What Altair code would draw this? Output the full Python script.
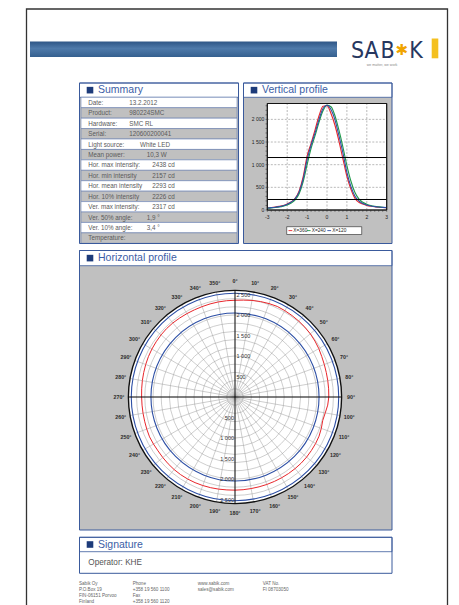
import altair as alt
import pandas as pd

# ------------------------------------------------------------------ data
summary_labels = ["Date:", "Product:", "Hardware:", "Serial:", "Light source:", "Mean power:",
                  "Hor. max intensity:", "Hor. min intensity", "Hor. mean intensity",
                  "Hor. 10% intensity", "Ver. max intensity:", "Ver. 50% angle:",
                  "Ver. 10% angle:", "Temperature:"]
summary_values = ["13.2.2012", "980224SMC", "SMC RL", "120600200041", "White LED", "10,3 W",
                  "2438 cd", "2157 cd", "2293 cd", "2226 cd", "2317 cd", "1,9 °", "3,4 °", ""]

vp_series = ["X=360", "X=240", "X=120"]
vp_x = [-3.0, -2.8, -2.6, -2.4, -2.2, -2.0, -1.8, -1.6, -1.4, -1.2, -1.0, -0.8, -0.6, -0.4, -0.2,
        0.0, 0.2, 0.4, 0.6, 0.8, 1.0, 1.2, 1.4, 1.6, 1.8, 2.0, 2.2, 2.4, 2.6, 2.8, 3.0]
vp_red = [48, 55, 65, 80, 100, 135, 180, 255, 420, 730, 1190, 1470, 1770, 2080, 2290,
          2300, 2130, 1870, 1520, 1130, 740, 460, 260, 170, 130, 100, 82, 70, 62, 55, 50]
vp_green = [40, 46, 55, 67, 85, 112, 155, 225, 360, 620, 1000, 1360, 1640, 1940, 2190,
            2310, 2280, 2080, 1760, 1390, 980, 640, 390, 245, 170, 128, 100, 82, 70, 60, 54]
vp_blue = [45, 52, 62, 75, 95, 125, 175, 250, 400, 680, 1110, 1430, 1700, 2000, 2240,
           2310, 2220, 1990, 1640, 1260, 830, 520, 310, 200, 145, 110, 88, 75, 66, 58, 52]
vp_levels = [1158, 232]          # 50 % and 10 % of the vertical maximum
vp_y_ticks = [0, 500, 1000, 1500, 2000]
vp_y_tick_labels = ["0", "500", "1 000", "1 500", "2 000"]
vp_x_ticks = [-3, -2, -1, 0, 1, 2, 3]
vp_x_tick_labels = ["-3", "-2", "-1", "0", "1", "2", "3"]
VP_YMAX = 2350

hp_angles = list(range(0, 360, 5))
hp_intensity = [2360, 2372, 2392, 2410, 2425, 2438, 2432, 2425, 2418, 2410, 2398, 2380,
                2360, 2335, 2318, 2305, 2298, 2292, 2288, 2270, 2235, 2215, 2240, 2262,
                2270, 2275, 2280, 2282, 2280, 2278, 2275, 2272, 2270, 2268, 2268, 2270,
                2272, 2275, 2282, 2290, 2298, 2305, 2310, 2312, 2310, 2305, 2298, 2292,
                2296, 2300, 2290, 2282, 2278, 2276, 2278, 2285, 2295, 2305, 2318, 2330,
                2340, 2348, 2355, 2360, 2358, 2352, 2348, 2345, 2346, 2350, 2354, 2357]
hp_limits = [2050, 2530]
hp_ring_ticks = [500, 1000, 1500, 2000, 2500]
hp_ring_tick_labels = ["500", "1 000", "1 500", "2 000", "2 500"]
hp_grid_rings = [200, 400, 600, 800, 1000, 1200, 1400, 1600, 1800, 2000, 2200, 2400]
hp_spokes = list(range(0, 360, 10))
hp_angle_labels = [f"{a}°" for a in hp_spokes]
HP_MAX = 2600

operator_text = "Operator: KHE"
footer_cols = [["Sabik Oy", "P.O.Box 19", "FIN-06151 Porvoo", "Finland"],
               ["Phone", "+358 19 560 1100", "Fax", "+358 19 560 1120"],
               ["www.sabik.com", "sales@sabik.com"],
               ["VAT No.", "FI 08703050"]]

# ------------------------------------------------------------------ layout / style
SANS = "Liberation Sans, Arial, Helvetica, sans-serif"
COND = "DejaVu Sans Condensed, Liberation Sans Narrow, Roboto Condensed, Liberation Sans, sans-serif"
PX = 8
W, H = 443, 597
BLUE = "#3a5a9c"
TITLE_BLUE = "#3c5ea6"
ICON = "#1d3b7a"
GREY = "#c0c0c0"
TXT = "#5a5a5a"
VP_COLORS = ["#e8262b", "#1f9a4a", "#2d4fa5"]


def LX():
    return alt.Scale(domain=[PX, PX + W], range=[0, W], nice=False, zero=False)


def LY():
    return alt.Scale(domain=[PX, PX + H], range=[0, H], nice=False, zero=False)


def rect_layer(rows):
    df = pd.DataFrame(rows, columns=["x", "y", "x2", "y2", "fill", "stroke", "sw"])
    return alt.Chart(df).mark_rect().encode(
        x=alt.X("x:Q", scale=LX(), axis=None), x2="x2:Q",
        y=alt.Y("y:Q", scale=LY(), axis=None), y2="y2:Q",
        fill=alt.Fill("fill:N", scale=None),
        stroke=alt.Stroke("stroke:N", scale=None),
        strokeWidth=alt.StrokeWidth("sw:Q", scale=None))


def rule_layer(rows):
    df = pd.DataFrame(rows, columns=["x", "y", "x2", "y2", "color", "sw"])
    return alt.Chart(df).mark_rule().encode(
        x=alt.X("x:Q", scale=LX(), axis=None), x2="x2:Q",
        y=alt.Y("y:Q", scale=LY(), axis=None), y2="y2:Q",
        color=alt.Color("color:N", scale=None),
        strokeWidth=alt.StrokeWidth("sw:Q", scale=None))


def text_layer(rows, align="left", weight="normal", baseline="middle", font=SANS):
    df = pd.DataFrame(rows, columns=["x", "y", "t", "size", "color"])
    return alt.Chart(df).mark_text(align=align, baseline=baseline, fontWeight=weight,
                                   font=font).encode(
        x=alt.X("x:Q", scale=LX(), axis=None),
        y=alt.Y("y:Q", scale=LY(), axis=None),
        text="t:N",
        size=alt.Size("size:Q", scale=None),
        color=alt.Color("color:N", scale=None))


# panels: (x, y, x2, y2, title_bottom, body_fill, title)
panels = [
    (79.5, 83.0, 238.5, 243.5, 97.3, GREY, "Summary"),
    (243.5, 83.0, 392.0, 243.5, 97.3, GREY, "Vertical profile"),
    (79.5, 250.5, 392.0, 530.0, 265.7, GREY, "Horizontal profile"),
    (79.5, 537.3, 392.0, 573.3, 551.7, "white", "Signature"),
]

rects = [(26.5, 9.0, 447.5, 640.0, "none", "#333333", 1.3)]
for (x, y, x2, y2, tb, body, _t) in panels:
    rects.append((x, y, x2, y2, body, "none", 0))
    rects.append((x, y, x2, tb, "white", BLUE, 0.8))

ROW_TOP, ROW_H = 97.3, (243.3 - 97.3) / 14
for i in range(len(summary_labels)):
    rects.append((81.0, ROW_TOP + i * ROW_H, 237.0, ROW_TOP + (i + 1) * ROW_H,
                  "white" if i % 2 == 0 else GREY, "#6a82b4", 0.6))
for (x, y, x2, y2, tb, body, _t) in panels:
    rects.append((x, y, x2, y2, "none", BLUE, 1.0))
    icon_y = (y + tb) / 2
    rects.append((x + 7.2, icon_y - 3.3, x + 13.8, icon_y + 3.3, ICON, "none", 0))
# legend box of the vertical profile
LEG = (286.7, 226.7, 361.7, 234.5)
rects.append((LEG[0], LEG[1], LEG[2], LEG[3], "white", "#222222", 0.6))
# yellow logo bar
rects.append((431.7, 38.5, 438.3, 58.3, "#f4c020", "none", 0))

banner = alt.Chart(pd.DataFrame([{"x": 30.0, "y": 41.5, "x2": 337.0, "y2": 57.0}])).mark_rect(
    color=alt.Gradient(gradient="linear", x1=0, y1=0, x2=0, y2=1,
                       stops=[alt.GradientStop(offset=0, color="#2f5686"),
                              alt.GradientStop(offset=0.45, color="#4f7aaa"),
                              alt.GradientStop(offset=1, color="#35608f")])
).encode(x=alt.X("x:Q", scale=LX(), axis=None), x2="x2:Q",
         y=alt.Y("y:Q", scale=LY(), axis=None), y2="y2:Q")

# texts
title_rows = [(x + 18.5, (y + tb) / 2 + 0.3, t, 10.5, TITLE_BLUE)
              for (x, y, x2, y2, tb, body, t) in panels]

value_x = [129.3, 129.3, 129.3, 129.3, 140.0, 146.7, 152.3, 152.3, 152.3, 152.3,
           152.3, 146.7, 146.7, 146.7]
table_rows = []
for i, (lab, val) in enumerate(zip(summary_labels, summary_values)):
    yc = ROW_TOP + (i + 0.5) * ROW_H + 0.3
    table_rows.append((88.3, yc, lab, 6.3, TXT))
    if val:
        table_rows.append((value_x[i], yc, val, 6.3, TXT))

leg_y = (LEG[1] + LEG[3]) / 2
leg_dash_x = [288.5, 306.8, 327.3]
leg_text_x = [293.3, 311.7, 332.3]
leg_rules = [(dx, leg_y, dx + 3.8, leg_y, c, 0.9) for dx, c in zip(leg_dash_x, VP_COLORS)]
leg_texts = [(tx, leg_y + 0.2, s, 4.8, "#222222") for tx, s in zip(leg_text_x, vp_series)]

footer_x = [79.0, 132.7, 197.7, 262.7]
footer_y = [584.0, 590.2, 596.4, 602.3]
footer_rows = []
for cx, col in zip(footer_x, footer_cols):
    for j, line in enumerate(col):
        footer_rows.append((cx, footer_y[j], line, 4.6, "#666666"))

logo_letters = ["S", "A", "B", "K"]
logo_x = [357.5, 371.7, 387.5, 416.0]
logo_rows = [(lx, 57.5, ch, 23, "#27375f") for lx, ch in zip(logo_x, logo_letters)]
star_rows = [(401.8, 49.5, "✱", 15, "#f0a400")]
tagline_rows = [(382.0, 65.0, "we matter, we work", 3.6, "#8a8a8a")]

layout = alt.layer(
    rect_layer(rects[:1]),
    banner,
    rect_layer(rects[1:]),
    rule_layer(leg_rules),
    text_layer(title_rows),
    text_layer(table_rows),
    text_layer(leg_texts),
    text_layer(footer_rows),
    text_layer([(88.3, 562.5, operator_text, 8.2, "#555555")]),
    text_layer(logo_rows, align="center", baseline="alphabetic", font=COND),
    text_layer(star_rows, align="center", font="DejaVu Sans"),
    text_layer(tagline_rows, align="center"),
)

# ------------------------------------------------------------------ vertical profile
VX = alt.Scale(domain=[-3, 3], range=[267.3 - PX, 386.7 - PX], nice=False, zero=False)
VY = alt.Scale(domain=[0, VP_YMAX], range=[210.0 - PX, 103.5 - PX], nice=False, zero=False)

vp_frame = alt.Chart(pd.DataFrame([{"x": vp_x[0], "x2": vp_x[-1], "y": 0, "y2": VP_YMAX}])
                     ).mark_rect(fill="white", stroke="#111111", strokeWidth=0.9).encode(
    x=alt.X("x:Q", scale=VX, axis=None), x2="x2:Q",
    y=alt.Y("y:Q", scale=VY, axis=None), y2="y2:Q")

vgrid = alt.Chart(pd.DataFrame({"t": vp_x_ticks[1:-1], "y": 0, "y2": VP_YMAX})).mark_rule(
    color="#8a8a8a", strokeWidth=0.6, strokeDash=[2, 1.5]).encode(
    x=alt.X("t:Q", scale=VX, axis=None), y=alt.Y("y:Q", scale=VY, axis=None), y2="y2:Q")
hgrid = alt.Chart(pd.DataFrame({"t": vp_y_ticks[1:], "x": -3, "x2": 3})).mark_rule(
    color="#8a8a8a", strokeWidth=0.6, strokeDash=[2, 1.5]).encode(
    y=alt.Y("t:Q", scale=VY, axis=None), x=alt.X("x:Q", scale=VX, axis=None), x2="x2:Q")

minor_y = [v for v in range(0, VP_YMAX, 100)]
minor_x = [round(-3 + 0.2 * k, 2) for k in range(31)]
yticks = alt.Chart(pd.DataFrame({"t": minor_y, "x": -3.0, "x2": -3.09})).mark_rule(
    color="#222222", strokeWidth=0.5).encode(
    y=alt.Y("t:Q", scale=VY, axis=None), x=alt.X("x:Q", scale=VX, axis=None), x2="x2:Q")
xticks = alt.Chart(pd.DataFrame({"t": minor_x, "y": 0, "y2": -40})).mark_rule(
    color="#222222", strokeWidth=0.5).encode(
    x=alt.X("t:Q", scale=VX, axis=None), y=alt.Y("y:Q", scale=VY, axis=None), y2="y2:Q")

curves = []
for name, vals, col in zip(vp_series, [vp_red, vp_green, vp_blue], VP_COLORS):
    curves.append(alt.Chart(pd.DataFrame({"x": vp_x, "v": vals})).mark_line(
        color=col, strokeWidth=1.1, interpolate="monotone").encode(
        x=alt.X("x:Q", scale=VX, axis=None), y=alt.Y("v:Q", scale=VY, axis=None)))

levels = alt.Chart(pd.DataFrame({"v": vp_levels, "x": -3, "x2": 3})).mark_rule(
    color="#000000", strokeWidth=1.0).encode(
    y=alt.Y("v:Q", scale=VY, axis=None), x=alt.X("x:Q", scale=VX, axis=None), x2="x2:Q")

ylabels = alt.Chart(pd.DataFrame({"t": vp_y_ticks, "lab": vp_y_tick_labels, "x": -3})).mark_text(
    align="right", baseline="middle", dx=-3, fontSize=5, font=SANS, color="#222222").encode(
    y=alt.Y("t:Q", scale=VY, axis=None), x=alt.X("x:Q", scale=VX, axis=None), text="lab:N")
xlabels = alt.Chart(pd.DataFrame({"t": vp_x_ticks, "lab": vp_x_tick_labels, "y": 0})).mark_text(
    align="center", baseline="middle", dy=6.5, fontSize=5, font=SANS, color="#222222").encode(
    x=alt.X("t:Q", scale=VX, axis=None), y=alt.Y("y:Q", scale=VY, axis=None), text="lab:N")

vp = alt.layer(vp_frame, vgrid, hgrid, *curves, levels, vp_frame.mark_rect(
    fill="none", stroke="#111111", strokeWidth=0.9), yticks, xticks, ylabels, xlabels)

# ------------------------------------------------------------------ horizontal (polar) profile
K = 0.041                 # pixels per cd
CX, CY = 235.0, 397.0
RPX = HP_MAX * K
LABEL_R = 116.0 / K
HX = alt.Scale(domain=[-HP_MAX, HP_MAX], range=[CX - RPX - PX, CX + RPX - PX], nice=False, zero=False)
HY = alt.Scale(domain=[-HP_MAX, HP_MAX], range=[CY + RPX - PX, CY - RPX - PX], nice=False, zero=False)


def circles(values, color, sw, filled=False):
    return alt.Chart(pd.DataFrame({"r": values})).transform_calculate(
        x="0", y="0", s=f"pow(2 * datum.r * {K}, 2)").mark_point(
        shape="circle", filled=filled, color=color, strokeWidth=sw, opacity=1).encode(
        x=alt.X("x:Q", scale=HX, axis=None), y=alt.Y("y:Q", scale=HY, axis=None),
        size=alt.Size("s:Q", scale=None))


disc = circles([HP_MAX], "white", 0, filled=True)
rings = circles(hp_grid_rings, "#9c9c9c", 0.5)
spokes = alt.Chart(pd.DataFrame({"a": hp_spokes})).transform_calculate(
    x0="0", y0="0",
    ex=f"{HP_MAX} * sin(datum.a * PI / 180)", ey=f"{HP_MAX} * cos(datum.a * PI / 180)").mark_rule(
    color="#9c9c9c", strokeWidth=0.5).encode(
    x=alt.X("x0:Q", scale=HX, axis=None), y=alt.Y("y0:Q", scale=HY, axis=None),
    x2="ex:Q", y2="ey:Q")
axes = alt.Chart(pd.DataFrame({"x": [-HP_MAX, 0], "y": [0, -HP_MAX],
                               "x2": [HP_MAX, 0], "y2": [0, HP_MAX]})).mark_rule(
    color="#000000", strokeWidth=0.9).encode(
    x=alt.X("x:Q", scale=HX, axis=None), y=alt.Y("y:Q", scale=HY, axis=None),
    x2="x2:Q", y2="y2:Q")
limits = circles(hp_limits, "#2d4fa5", 1.1)
red = alt.Chart(pd.DataFrame({"a": hp_angles, "v": hp_intensity,
                              "i": list(range(len(hp_angles)))})).transform_calculate(
    x="datum.v * sin(datum.a * PI / 180)", y="datum.v * cos(datum.a * PI / 180)").mark_line(
    color="#e8262b", strokeWidth=1.0, interpolate="linear-closed").encode(
    x=alt.X("x:Q", scale=HX, axis=None), y=alt.Y("y:Q", scale=HY, axis=None), order="i:Q")
outline = circles([HP_MAX], "#111111", 1.4)
ang_labels = alt.Chart(pd.DataFrame({"a": hp_spokes, "lab": hp_angle_labels})).transform_calculate(
    x=f"{LABEL_R} * sin(datum.a * PI / 180)", y=f"{LABEL_R} * cos(datum.a * PI / 180)").mark_text(
    align="center", baseline="middle", fontSize=5.3, fontWeight="bold", font=SANS,
    color="#2a2a2a").encode(
    x=alt.X("x:Q", scale=HX, axis=None), y=alt.Y("y:Q", scale=HY, axis=None), text="lab:N")
rad_top = alt.Chart(pd.DataFrame({"t": hp_ring_ticks, "lab": hp_ring_tick_labels, "x": 0})).mark_text(
    align="left", baseline="middle", dx=1.5, fontSize=5.5, font=SANS, color="#333333").encode(
    x=alt.X("x:Q", scale=HX, axis=None), y=alt.Y("t:Q", scale=HY, axis=None), text="lab:N")
rad_bot = alt.Chart(pd.DataFrame({"t": [-v for v in hp_ring_ticks], "lab": hp_ring_tick_labels,
                                  "x": 0})).mark_text(
    align="right", baseline="middle", dx=-1, fontSize=5.5, font=SANS, color="#333333").encode(
    x=alt.X("x:Q", scale=HX, axis=None), y=alt.Y("t:Q", scale=HY, axis=None), text="lab:N")

hp = alt.layer(disc, rings, spokes, limits, red, axes, outline, ang_labels, rad_top, rad_bot)

chart = alt.layer(layout, vp, hp).resolve_scale(x="independent", y="independent").properties(
    width=W, height=H, padding=0, background="white",
    autosize=alt.AutoSizeParams(type="none")).configure_view(strokeWidth=0)

chart.save("out.html", embed_options={"renderer": "svg", "actions": False})
